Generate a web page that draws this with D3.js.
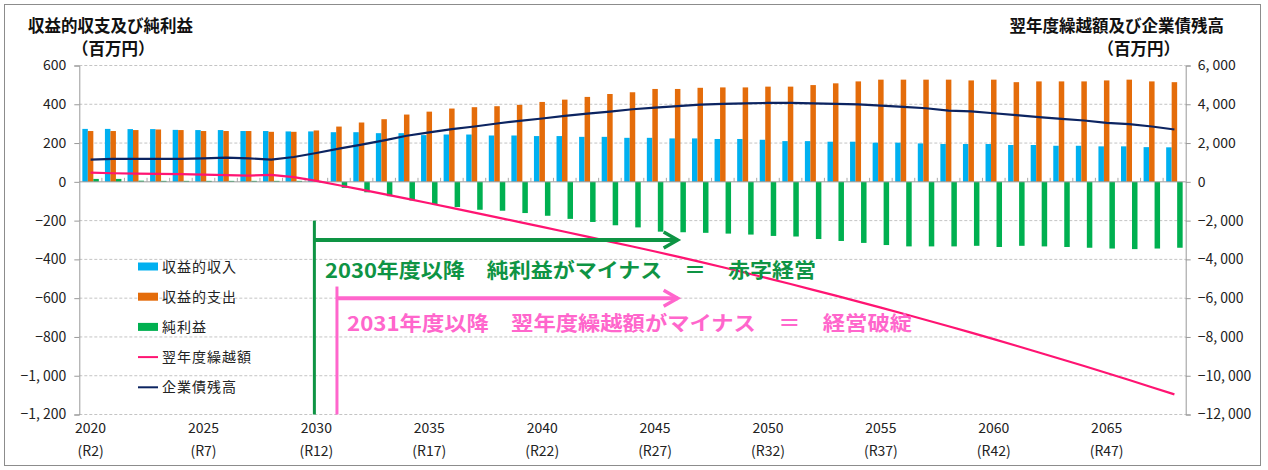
<!DOCTYPE html>
<html>
<head>
<meta charset="utf-8">
<script src="https://cdn.jsdelivr.net/npm/d3@7"></script>
<style>
  body { margin: 0; background: #fff; }
  svg { display: block; font-family: "Noto Sans CJK JP", sans-serif; }
</style>
</head>
<body>
<div id="chart"></div>
<script>
// categories: fiscal years 2020-2068
const years = d3.range(2020, 2069);

// 収益的収入 (left axis, 百万円)
const income = [273, 273, 272, 272, 268, 267, 267, 262, 262, 260,
  260, 256, 256, 251, 251, 241, 244, 244, 239, 239,
  236, 236, 232, 232, 227, 227, 224, 224, 221, 221,
  217, 210, 210, 207, 207, 202, 202, 198, 195, 195,
  195, 190, 190, 186, 186, 183, 183, 179, 178];

// 収益的支出 (left axis)
const expense = [262, 262, 267, 270, 267, 262, 262, 262, 258, 258,
  265, 285, 306, 323, 347, 362, 378, 385, 390, 397,
  412, 424, 438, 453, 462, 479, 479, 485, 487, 487,
  491, 491, 499, 508, 518, 527, 527, 527, 527, 523,
  527, 514, 518, 518, 518, 523, 527, 518, 514];

// 純利益 (left axis)
const netIncome = [15, 15, 6, 5, 5, 5, 5, 5, 5, 5,
  -3, -31, -54, -74, -96, -116, -130, -144, -149, -161,
  -175, -191, -207, -224, -235, -257, -260, -263, -267, -272,
  -279, -282, -295, -305, -315, -326, -333, -333, -333, -330,
  -336, -330, -333, -336, -340, -344, -347, -344, -340];

// 翌年度繰越額 (right axis)
const carryOver = [479, 444, 427, 410, 393, 376, 342, 325, 359, 239,
  50, -175, -400, -630, -865, -1105, -1345, -1590, -1835, -2080,
  -2325, -2575, -2825, -3080, -3335, -3595, -3860, -4130, -4405, -4692,
  -4980, -5272, -5569, -5871, -6177, -6488, -6804, -7125, -7450, -7780,
  -8115, -8455, -8799, -9148, -9502, -9860, -10223, -10591, -10963];

// 企業債残高 (right axis)
const debt = [1145, 1180, 1180, 1180, 1180, 1214, 1248, 1214, 1145, 1282,
  1487, 1710, 1915, 2140, 2376, 2547, 2718, 2855, 3009, 3145,
  3265, 3402, 3521, 3624, 3744, 3830, 3905, 3983, 4017, 4051,
  4068, 4068, 4051, 4017, 4000, 3932, 3863, 3795, 3675, 3632,
  3538, 3436, 3333, 3248, 3162, 3043, 2974, 2855, 2700];

const labelYears = [2020, 2025, 2030, 2035, 2040, 2045, 2050, 2055, 2060, 2065];
const reiwaLabels = ["(R2)", "(R7)", "(R12)", "(R17)", "(R22)", "(R27)", "(R32)", "(R37)", "(R42)", "(R47)"];
const leftTicks = [600, 400, 200, 0, -200, -400, -600, -800, -1000, -1200];
const rightTicks = [6000, 4000, 2000, 0, -2000, -4000, -6000, -8000, -10000, -12000];

const W = 1268, H = 470;
const plotLeft = 79.3, plotRight = 1185.7, plotTop = 65.5, plotBottom = 414.5;

const svg = d3.select("#chart").append("svg")
  .attr("width", W)
  .attr("height", H);

svg.append("rect")
  .attr("x", 4.5).attr("y", 4.5)
  .attr("width", 1256).attr("height", 461)
  .attr("fill", "none")
  .attr("stroke", "#8c8c8c");

const x0 = d3.scaleBand().domain(years).range([plotLeft, plotRight])
  .paddingInner(0.27).paddingOuter(0.135);
const x1 = d3.scaleBand().domain(["income", "expense", "net"])
  .range([0, x0.bandwidth()]);
const yL = d3.scaleLinear().domain([-1200, 600]).range([plotBottom, plotTop]);
const yR = d3.scaleLinear().domain([-12000, 6000]).range([plotBottom, plotTop]);
const cx = d => x0(d) + x0.bandwidth() / 2;

const fmt = v => d3.format(",")(v).replace(",", ", ");

// gridlines
svg.append("g")
  .selectAll("line")
  .data(leftTicks.filter(d => d !== 0))
  .enter()
  .append("line")
  .attr("x1", plotLeft).attr("x2", plotRight)
  .attr("y1", d => yL(d)).attr("y2", d => yL(d))
  .attr("stroke", "#c4c4c4")
  .attr("stroke-dasharray", "3,2");

// axes
const axL = svg.append("g")
  .attr("transform", `translate(${plotLeft},0)`)
  .call(d3.axisLeft(yL).tickValues(leftTicks).tickSize(5).tickFormat(fmt));
const axR = svg.append("g")
  .attr("transform", `translate(${plotRight},0)`)
  .call(d3.axisRight(yR).tickValues(rightTicks).tickSize(5).tickFormat(fmt));
[axL, axR].forEach(ax => {
  ax.select(".domain").attr("stroke", "#999");
  ax.selectAll(".tick line").attr("stroke", "#999");
  ax.selectAll(".tick text")
    .attr("font-family", "Noto Sans CJK JP")
    .attr("font-size", 14)
    .attr("fill", "#222");
});
axL.selectAll(".tick text").attr("x", -13);
axR.selectAll(".tick text").attr("x", 12);

// bars
const series = [
  { key: "income", values: income, color: "#00b0f0" },
  { key: "expense", values: expense, color: "#e46c0a" },
  { key: "net", values: netIncome, color: "#00b050" }
];
series.forEach(s => {
  svg.append("g")
    .selectAll("rect")
    .data(years)
    .enter()
    .append("rect")
    .attr("x", d => x0(d) + x1(s.key))
    .attr("width", x1.bandwidth())
    .attr("y", (d, i) => yL(Math.max(0, s.values[i])))
    .attr("height", (d, i) => Math.abs(yL(s.values[i]) - yL(0)))
    .attr("fill", s.color);
});

// zero line with category ticks
svg.append("line")
  .attr("x1", plotLeft).attr("x2", plotRight)
  .attr("y1", yL(0)).attr("y2", yL(0))
  .attr("stroke", "#9a9a9a");
svg.append("g")
  .selectAll("line")
  .data(years.slice(1))
  .enter()
  .append("line")
  .attr("x1", d => x0(d) - x0.step() * 0.135)
  .attr("x2", d => x0(d) - x0.step() * 0.135)
  .attr("y1", yL(0)).attr("y2", yL(0) - 4)
  .attr("stroke", "#aaa");

// lines
const lineR = d3.line().x((d, i) => cx(years[i])).y(d => yR(d));
svg.append("path")
  .datum(carryOver)
  .attr("d", lineR)
  .attr("fill", "none")
  .attr("stroke", "#ff1472")
  .attr("stroke-width", 2.2);
svg.append("path")
  .datum(debt)
  .attr("d", lineR)
  .attr("fill", "none")
  .attr("stroke", "#0c2461")
  .attr("stroke-width", 2.2);

// x labels
const xl = svg.append("g");
xl.selectAll("text.yr")
  .data(labelYears)
  .enter()
  .append("text")
  .attr("class", "yr")
  .attr("x", d => cx(d))
  .attr("y", 433)
  .attr("text-anchor", "middle")
  .attr("font-size", 14)
  .attr("fill", "#222")
  .text(d => d);
xl.selectAll("text.rw")
  .data(labelYears)
  .enter()
  .append("text")
  .attr("class", "rw")
  .attr("x", d => cx(d))
  .attr("y", 456)
  .attr("text-anchor", "middle")
  .attr("font-size", 14)
  .attr("fill", "#222")
  .text((d, i) => reiwaLabels[i]);

// axis titles
const titles = [
  { text: "収益的収支及び純利益", x: 28, y: 32, anchor: "start" },
  { text: "（百万円）", x: 72, y: 55, anchor: "start" },
  { text: "翌年度繰越額及び企業債残高", x: 1224, y: 32, anchor: "end" },
  { text: "（百万円）", x: 1180, y: 55, anchor: "end" }
];
svg.append("g")
  .selectAll("text")
  .data(titles)
  .enter()
  .append("text")
  .attr("x", d => d.x).attr("y", d => d.y)
  .attr("text-anchor", d => d.anchor)
  .attr("font-size", 16.5).attr("font-weight", "bold").attr("fill", "#111")
  .text(d => d.text);

// legend
const legendItems = [
  { name: "収益的収入", color: "#00b0f0", type: "bar" },
  { name: "収益的支出", color: "#e46c0a", type: "bar" },
  { name: "純利益", color: "#00b050", type: "bar" },
  { name: "翌年度繰越額", color: "#ff1472", type: "line" },
  { name: "企業債残高", color: "#0c2461", type: "line" }
];
const legend = svg.append("g").attr("id", "legend");
const lg = legend.selectAll("g")
  .data(legendItems)
  .enter()
  .append("g")
  .attr("transform", (d, i) => `translate(138, ${266.5 + i * 30.2})`);
lg.filter(d => d.type === "bar").append("rect")
  .attr("x", 0).attr("y", -4).attr("width", 20).attr("height", 8)
  .attr("fill", d => d.color);
lg.filter(d => d.type === "line").append("line")
  .attr("x1", 0).attr("x2", 20).attr("y1", 0).attr("y2", 0)
  .attr("stroke", d => d.color).attr("stroke-width", 2);
lg.append("text")
  .attr("x", 24).attr("y", 5)
  .attr("font-size", 14)
  .attr("letter-spacing", 1)
  .attr("fill", "#222")
  .text(d => d.name);

// annotations
const green = "#0e9444", pink = "#ff66cc";
function arrow(color, xs, ys, xe, yh, text, tx, ty, tlen) {
  const g = svg.append("g");
  g.append("line").attr("x1", xs).attr("x2", xs).attr("y1", ys).attr("y2", yL(-1200))
    .attr("stroke", color).attr("stroke-width", 3);
  g.append("line").attr("x1", xs).attr("x2", xe).attr("y1", yh).attr("y2", yh)
    .attr("stroke", color).attr("stroke-width", 4);
  g.append("path")
    .attr("d", `M${xe - 14},${yh - 8} L${xe},${yh} L${xe - 14},${yh + 8}`)
    .attr("fill", "none").attr("stroke", color).attr("stroke-width", 3.5);
  g.append("text")
    .attr("x", tx).attr("y", ty)
    .attr("font-size", 20).attr("font-weight", "bold")
    .attr("fill", color)
    .attr("textLength", tlen).attr("lengthAdjust", "spacingAndGlyphs")
    .text(text);
}
arrow(green, cx(2030) - 2, yL(-200), cx(2046), yL(-300),
  "2030年度以降　純利益がマイナス　＝　赤字経営", 325, 278, 491);
arrow(pink, cx(2031) - 2, yL(-540), cx(2046), yL(-600),
  "2031年度以降　翌年度繰越額がマイナス　＝　経営破綻", 347, 331, 565);
</script>
</body>
</html>
